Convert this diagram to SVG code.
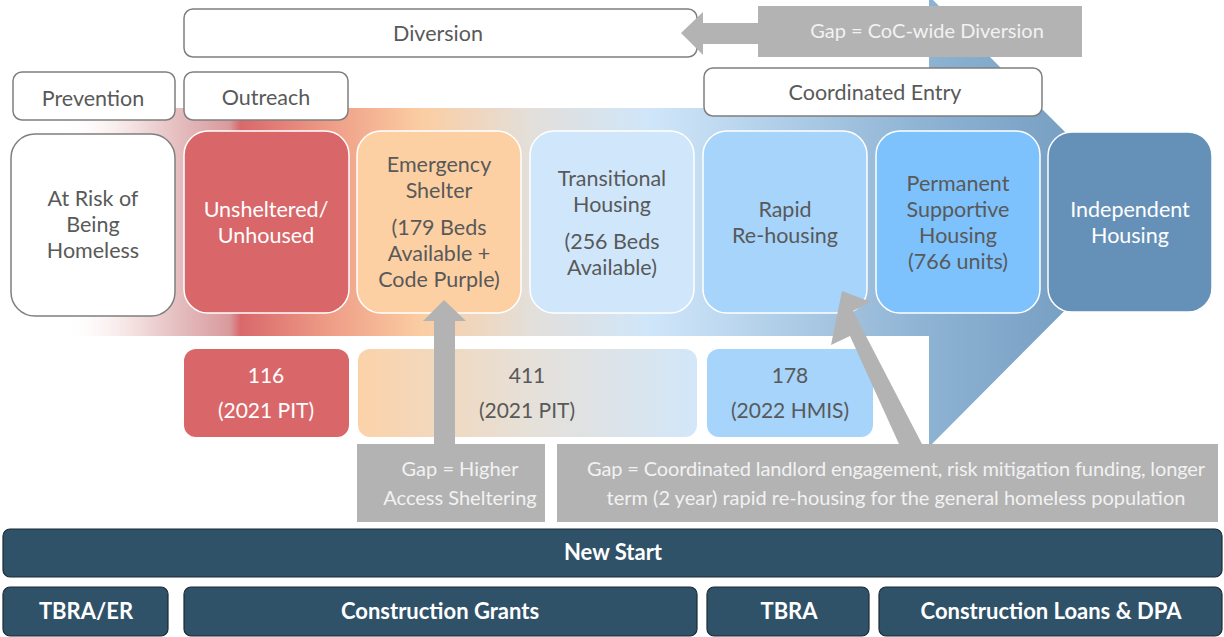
<svg xmlns="http://www.w3.org/2000/svg" width="1224" height="637" viewBox="0 0 1224 637">
<defs>
<linearGradient id="band" gradientUnits="userSpaceOnUse" x1="60" y1="0" x2="1154" y2="0">
<stop offset="0" stop-color="#ffffff" stop-opacity="0"/>
<stop offset="0.06" stop-color="#f7e6e6"/>
<stop offset="0.11" stop-color="#e4bcbe"/>
<stop offset="0.155" stop-color="#d99a9d"/>
<stop offset="0.165" stop-color="#d9686b"/>
<stop offset="0.25" stop-color="#ef9f88"/>
<stop offset="0.33" stop-color="#fbcda2"/>
<stop offset="0.43" stop-color="#e3dfda"/>
<stop offset="0.54" stop-color="#cfe6fa"/>
<stop offset="0.79" stop-color="#8eb3d3"/>
<stop offset="1" stop-color="#6a94ba"/>
</linearGradient>
<linearGradient id="g411" gradientUnits="objectBoundingBox" x1="0" y1="0" x2="1" y2="0">
<stop offset="0" stop-color="#fcd2a8"/>
<stop offset="0.5" stop-color="#e6e0d8"/>
<stop offset="1" stop-color="#d2e7f9"/>
</linearGradient>
<style>
text{font-family:Lato,"Open Sans","Liberation Sans",sans-serif;text-anchor:middle}
.lbl{fill:#ffffff;stroke:#7f7f7f;stroke-width:1.5}
.node{stroke:#ffffff;stroke-width:1.5}
.t{font-size:21.5px;fill:#595959}
.tw{font-size:21.5px;fill:#ffffff}
.s{font-size:21px;fill:#595959}
.sw{font-size:21px;fill:#ffffff}
.gap{fill:#b3b3b3}
.gt{font-size:20px;fill:#f2f2f2}
.bar{fill:#2f5269;stroke:#1a2b38;stroke-width:1.2}
.bt{font-size:22px;font-weight:bold;fill:#ffffff}
</style>
</defs>

<g id="flow-band">
<polygon points="60,108 929,108 929,-4 1154,221 929,447 929,336 60,336" fill="url(#band)"/>
</g>

<g id="node-diversion"><rect class="lbl" x="184" y="9" width="513" height="48" rx="9"/><text class="t" x="438" y="41">Diversion</text></g>
<g id="node-prevention"><rect class="lbl" x="13" y="72" width="162" height="48" rx="9"/><text class="t" x="93" y="106">Prevention</text></g>
<g id="node-outreach"><rect class="lbl" x="184" y="72" width="164" height="48" rx="9"/><text class="t" x="266" y="105">Outreach</text></g>
<g id="node-coordinated-entry"><rect class="lbl" x="704" y="68" width="338" height="48" rx="9"/><text class="t" x="875" y="100">Coordinated Entry</text></g>

<g id="node-at-risk"><rect x="11" y="134" width="164" height="182" rx="24" fill="#ffffff" stroke="#7f7f7f" stroke-width="1.5"/>
<text class="t" x="93" y="206">At Risk of</text><text class="t" x="93" y="232">Being</text><text class="t" x="93" y="258">Homeless</text></g>
<g id="node-unsheltered"><rect class="node" x="184" y="131" width="165" height="182" rx="24" fill="#d9676a"/>
<text class="tw" x="266" y="217">Unsheltered/</text><text class="tw" x="266" y="243">Unhoused</text></g>
<g id="node-emergency-shelter"><rect class="node" x="357" y="131" width="164" height="182" rx="24" fill="#fdd0a4"/>
<text class="t" x="439" y="172">Emergency</text><text class="t" x="439" y="198">Shelter</text><text class="t" x="439" y="235">(179 Beds</text><text class="t" x="439" y="261">Available +</text><text class="t" x="439" y="287">Code Purple)</text></g>
<g id="node-transitional"><rect class="node" x="530" y="131" width="164" height="182" rx="24" fill="#d0e7fb"/>
<text class="t" x="612" y="186">Transitional</text><text class="t" x="612" y="212">Housing</text><text class="t" x="612" y="249">(256 Beds</text><text class="t" x="612" y="275">Available)</text></g>
<g id="node-rapid"><rect class="node" x="703" y="131" width="164" height="182" rx="24" fill="#a6d4fb"/>
<text class="t" x="785" y="217">Rapid</text><text class="t" x="785" y="243">Re-housing</text></g>
<g id="node-psh"><rect class="node" x="876" y="131" width="164" height="182" rx="24" fill="#7dc2fc"/>
<text class="t" x="958" y="191">Permanent</text><text class="t" x="958" y="217">Supportive</text><text class="t" x="958" y="243">Housing</text><text class="t" x="958" y="269">(766 units)</text></g>
<g id="node-independent"><rect class="node" x="1048" y="132" width="164" height="180" rx="24" fill="#6591b8"/>
<text class="tw" x="1130" y="217">Independent</text><text class="tw" x="1130" y="243">Housing</text></g>

<g id="stat-116"><rect x="184" y="349" width="165" height="88" rx="12" fill="#d9676a"/>
<text class="sw" x="266" y="383">116</text><text class="sw" x="266" y="418">(2021 PIT)</text></g>
<g id="stat-411"><rect x="358" y="349" width="339" height="88" rx="12" fill="url(#g411)"/>
<text class="s" x="527" y="383">411</text><text class="s" x="527" y="418">(2021 PIT)</text></g>
<g id="stat-178"><rect x="707" y="349" width="166" height="88" rx="12" fill="#a6d4fb"/>
<text class="s" x="790" y="383">178</text><text class="s" x="790" y="418">(2022 HMIS)</text></g>

<g id="gap-diversion"><rect class="gap" x="758" y="6" width="324" height="51"/>
<text class="gt" x="927" y="38">Gap = CoC-wide Diversion</text></g>
<g id="gap-sheltering"><rect class="gap" x="357" y="444" width="188" height="78"/>
<text class="gt" x="460" y="476">Gap = Higher</text><text class="gt" x="460" y="505">Access Sheltering</text></g>
<g id="gap-landlord"><rect class="gap" x="557" y="444" width="661" height="78"/>
<text class="gt" x="896" y="476" textLength="618">Gap = Coordinated landlord engagement, risk mitigation funding, longer</text><text class="gt" x="896" y="505">term (2 year) rapid re-housing for the general homeless population</text></g>

<g id="connectors" fill="#b3b3b3">
<polygon points="758,23 703,23 703,12 681,33 703,55 703,44 758,44"/>
<polygon points="434,444 434,321 423,321 444,300 466,321 455,321 455,444"/>
<polygon points="899,444 850,336 831,345 842,291 871,302 853,311 922,444"/>
</g>

<g id="bar-new-start"><rect class="bar" x="3" y="529" width="1219" height="48" rx="7"/><text class="bt" x="613" y="560">New Start</text></g>
<g id="bar-tbra-er"><rect class="bar" x="3" y="587" width="165" height="49" rx="7"/><text class="bt" x="86" y="619">TBRA/ER</text></g>
<g id="bar-construction-grants"><rect class="bar" x="184" y="587" width="513" height="49" rx="7"/><text class="bt" x="440" y="619">Construction Grants</text></g>
<g id="bar-tbra"><rect class="bar" x="707" y="587" width="162" height="49" rx="7"/><text class="bt" x="789" y="619">TBRA</text></g>
<g id="bar-construction-loans"><rect class="bar" x="879" y="587" width="343" height="49" rx="7"/><text class="bt" x="1051" y="619">Construction Loans &amp; DPA</text></g>
</svg>
